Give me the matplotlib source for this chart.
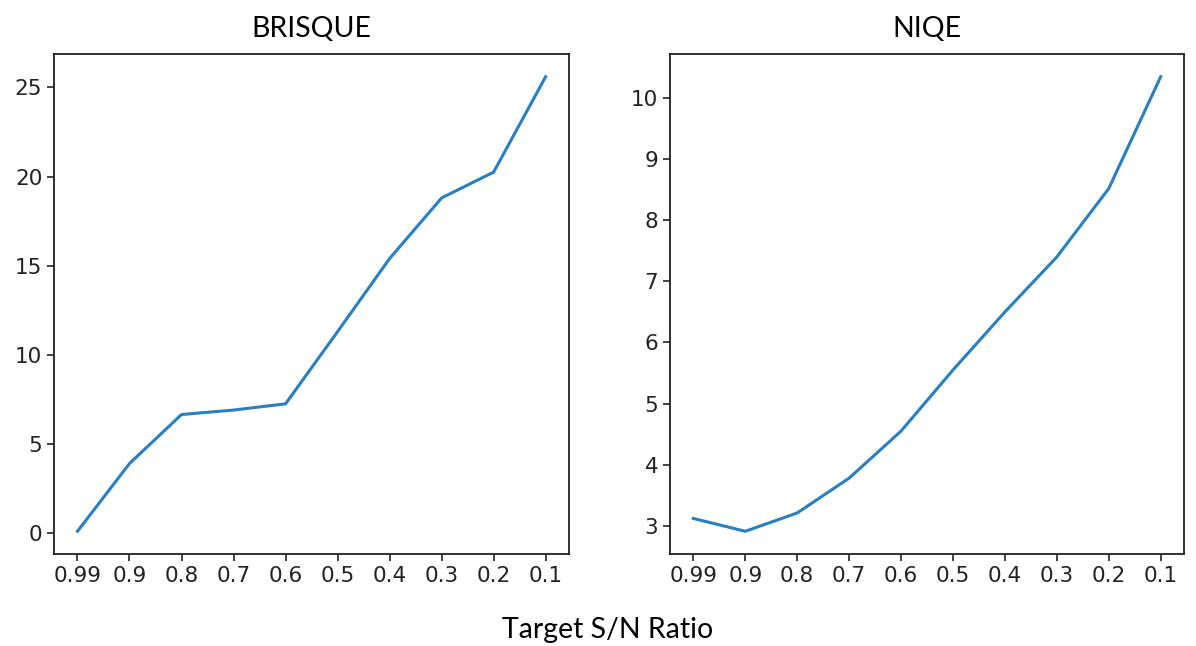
import matplotlib
matplotlib.use("Agg")
import matplotlib.pyplot as plt

plt.rcParams["font.family"] = "DejaVu Sans"

# Data
ratios = ["0.99", "0.9", "0.8", "0.7", "0.6", "0.5", "0.4", "0.3", "0.2", "0.1"]
brisque = [0.1, 3.9, 6.65, 6.9, 7.25, 11.3, 15.4, 18.8, 20.25, 25.6]
niqe = [3.12, 2.91, 3.21, 3.78, 4.55, 5.55, 6.5, 7.4, 8.52, 10.35]

title_font = "Lato"
line_color = "#2a7fc0"

fig = plt.figure(figsize=(11.96, 6.46), dpi=100)
ax1 = fig.add_axes([0.0452, 0.1424, 0.4306, 0.774])
ax2 = fig.add_axes([0.5602, 0.1424, 0.4298, 0.774])

for ax, vals, name in [(ax1, brisque, "BRISQUE"), (ax2, niqe, "NIQE")]:
    ax.plot(range(len(ratios)), vals, color=line_color, linewidth=2.2)
    ax.set_xticks(range(len(ratios)))
    ax.set_xticklabels(ratios)
    ax.tick_params(labelsize=15.5, length=5, width=1.2, colors="#222222")
    for s in ax.spines.values():
        s.set_linewidth(1.3)
        s.set_color("#222222")
    ax.set_title(name, fontsize=20.5, family=title_font, pad=12)

ax1.set_yticks([0, 5, 10, 15, 20, 25])
ax2.set_yticks([3, 4, 5, 6, 7, 8, 9, 10])

fig.text(0.508, 0.005, "Target S/N Ratio", ha="center", va="bottom",
         fontsize=20.5, family=title_font)

fig.savefig("out.png", dpi=100)
